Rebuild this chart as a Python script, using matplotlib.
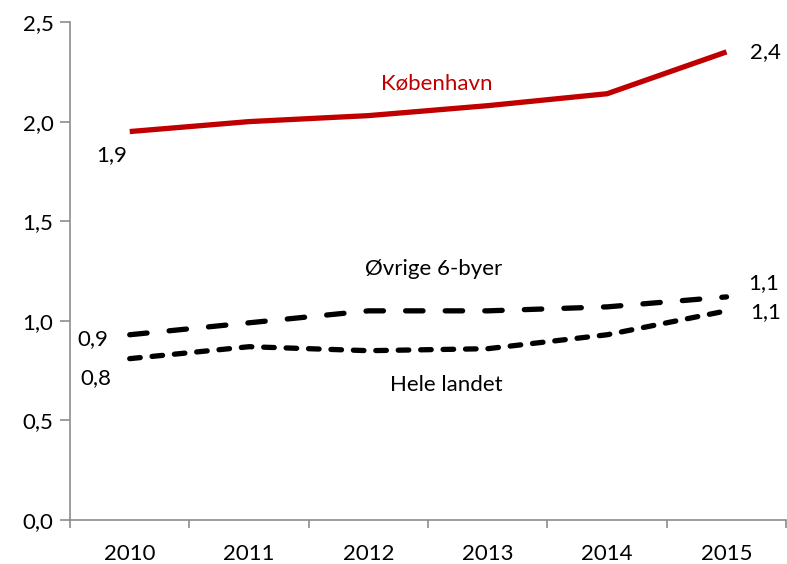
import matplotlib.pyplot as plt

years = ['2010', '2011', '2012', '2013', '2014', '2015']
kobenhavn = [1.95, 2.00, 2.03, 2.08, 2.14, 2.35]
ovrige = [0.93, 0.99, 1.05, 1.05, 1.07, 1.12]
hele_landet = [0.81, 0.87, 0.85, 0.86, 0.93, 1.05]
yticks = [0.0, 0.5, 1.0, 1.5, 2.0, 2.5]

plt.rcParams['font.family'] = ['Lato', 'DejaVu Sans']
FS = 16

fig = plt.figure(figsize=(7.87, 5.64), dpi=100)
ax = fig.add_axes([0.089, 0.078, 0.91, 0.883])

x = list(range(len(years)))

# lines
ax.plot(x, kobenhavn, color='#C00000', linewidth=3.8, solid_capstyle='butt')
ax.plot(x, ovrige, color='black', linewidth=3.8, dashes=(3.3, 4.2), dash_capstyle='round')
ax.plot(x, hele_landet, color='black', linewidth=3.8, dashes=(2.0, 2.25), dash_capstyle='round')

# series names
ax.text(2.57, 2.19, 'København', color='#C00000', fontsize=FS, ha='center', va='center')
ax.text(2.55, 1.26, 'Øvrige 6-byer', color='black', fontsize=FS, ha='center', va='center')
ax.text(2.65, 0.68, 'Hele landet', color='black', fontsize=FS, ha='center', va='center')

# data labels
def fmt(v):
    return ('%.1f' % v).replace('.', ',')

ax.text(-0.15, kobenhavn[0] - 0.12, fmt(kobenhavn[0]), fontsize=FS, ha='center', va='center')
ax.text(5.33, kobenhavn[-1], fmt(kobenhavn[-1]), fontsize=FS, ha='center', va='center')
ax.text(-0.31, ovrige[0] - 0.02, fmt(ovrige[0]), fontsize=FS, ha='center', va='center')
ax.text(-0.28, hele_landet[0] - 0.10, fmt(hele_landet[0]), fontsize=FS, ha='center', va='center')
ax.text(5.31, ovrige[-1] + 0.07, fmt(ovrige[-1]), fontsize=FS, ha='center', va='center')
ax.text(5.33, hele_landet[-1] - 0.005, fmt(hele_landet[-1]), fontsize=FS, ha='center', va='center')

# axes
ax.set_xlim(-0.5, len(years) - 0.5)
ax.set_ylim(0, 2.5)
ax.set_yticks(yticks)
ax.set_yticklabels([fmt(v) for v in yticks], fontsize=FS)
ax.set_xticks(x)
ax.set_xticklabels(years, fontsize=FS)
ax.set_xticks([i - 0.5 for i in range(len(years) + 1)], minor=True)
ax.tick_params(axis='x', which='major', length=0, pad=17)
ax.tick_params(axis='x', which='minor', length=6, color='#8c8c8c', width=1.2)
ax.tick_params(axis='y', length=7, color='#8c8c8c', width=1.2, pad=5)

for side in ['top', 'right']:
    ax.spines[side].set_visible(False)
for side in ['left', 'bottom']:
    ax.spines[side].set_color('#8c8c8c')
    ax.spines[side].set_linewidth(1.2)

plt.savefig('out.png', dpi=100)
